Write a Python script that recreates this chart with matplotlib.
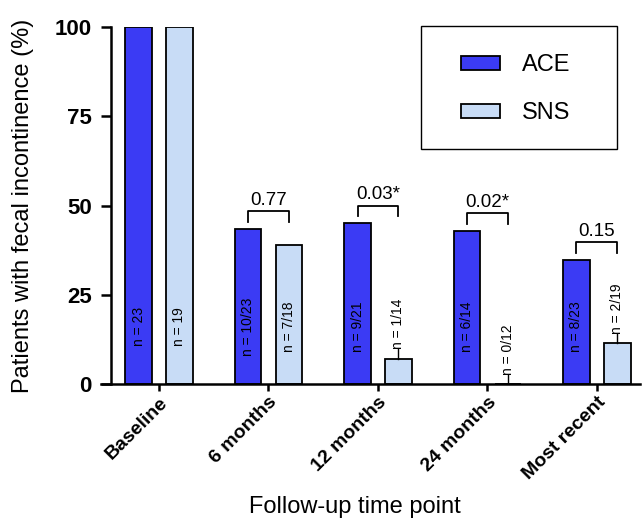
import numpy as np
import matplotlib
matplotlib.use("Agg")
import matplotlib.pyplot as plt
from matplotlib.patches import Rectangle

plt.rcParams["font.family"] = ["Liberation Sans", "DejaVu Sans"]

# ---------------------------
# Data
# ---------------------------
timepoints = ["Baseline", "6 months", "12 months", "24 months", "Most recent"]
ace_pct = [100, 43.5, 45.0, 42.9, 34.8]
sns_pct = [100, 38.9, 7.1, 0, 11.5]
ace_n = ["n = 23", "n = 10/23", "n = 9/21", "n = 6/14", "n = 8/23"]
sns_n = ["n = 19", "n = 7/18", "n = 1/14", "n = 0/12", "n = 2/19"]
p_values = [None, "0.77", "0.03*", "0.02*", "0.15"]

ACE_COLOR = "#3b3bf4"
SNS_COLOR = "#c8dcf6"

# ---------------------------
# Figure
# ---------------------------
fig = plt.figure(figsize=(6.44, 5.27), dpi=100)
ax = fig.add_axes([0.1724, 0.2713, 0.8214, 0.6774])

x = np.arange(len(timepoints))
off = 0.187
w = 0.245

ax.bar(x - off, ace_pct, w, color=ACE_COLOR, edgecolor="black", linewidth=1.3,
       label="ACE", zorder=2)
ax.bar(x + off, sns_pct, w, color=SNS_COLOR, edgecolor="black", linewidth=1.3,
       label="SNS", zorder=2)

# n labels
for i in range(len(x)):
    ax.text(x[i] - off, 16, ace_n[i], rotation=90, ha="center", va="center",
            fontsize=10)
    if sns_pct[i] > 25:
        ax.text(x[i] + off, 16, sns_n[i], rotation=90, ha="center", va="center",
                fontsize=10)
    else:
        ax.plot([x[i] + off, x[i] + off], [sns_pct[i], sns_pct[i] + 2.6],
                color="black", lw=1.0, zorder=3)
        ax.text(x[i] + off, sns_pct[i] + 2.6, sns_n[i], rotation=90,
                ha="center", va="bottom", fontsize=10)

# p-value brackets
for i, p in enumerate(p_values):
    if p is None:
        continue
    top = max(ace_pct[i], sns_pct[i]) + 5
    ax.plot([x[i] - off, x[i] - off, x[i] + off, x[i] + off],
            [top - 3, top, top, top - 3], color="black", lw=1.3, zorder=3)
    ax.text(x[i], top + 0.6, p, ha="center", va="bottom", fontsize=13.5)

# axes styling
ax.set_xlim(-0.438, 4.393)
ax.set_ylim(0, 100)
ax.set_yticks([0, 25, 50, 75, 100])
for s in ["top", "right"]:
    ax.spines[s].set_visible(False)
for s in ["left", "bottom"]:
    ax.spines[s].set_linewidth(1.8)
# x axis line runs a little past the y axis, under the zero tick
ax.spines["bottom"].set_bounds(-0.53, 4.393)
ax.tick_params(axis="y", length=7, width=1.8, pad=7, labelsize=16)
ax.tick_params(axis="x", length=5, width=1.8, pad=2, labelsize=14)
for lbl in ax.get_yticklabels():
    lbl.set_fontweight("bold")
ax.set_xticks(x)
ax.set_xticklabels(timepoints, rotation=45, ha="right", va="top",
                   rotation_mode="anchor", fontweight="bold")

ax.set_ylabel("Patients with fecal incontinence (%)", fontsize=17)
ax.yaxis.set_label_coords(-0.146, 0.5)
ax.set_xlabel("Follow-up time point", fontsize=17)
ax.xaxis.set_label_coords(0.461, -0.315)
ax.xaxis.label.set_va("top")

# legend: content placed without frame, box drawn separately
leg = ax.legend(loc="upper left",
                bbox_to_anchor=(461 / 644, 1 - 54 / 527),
                bbox_transform=fig.transFigure,
                fontsize=17, frameon=False, borderpad=0,
                labelspacing=1.12, handlelength=1.65, handleheight=0.55,
                handletextpad=0.95, borderaxespad=0)
fig.patches.append(Rectangle((421 / 644, 1 - 149 / 527), 196 / 644, 123 / 527,
                             transform=fig.transFigure, fill=False,
                             edgecolor="black", linewidth=1.0))

fig.savefig("out.png", dpi=100)
